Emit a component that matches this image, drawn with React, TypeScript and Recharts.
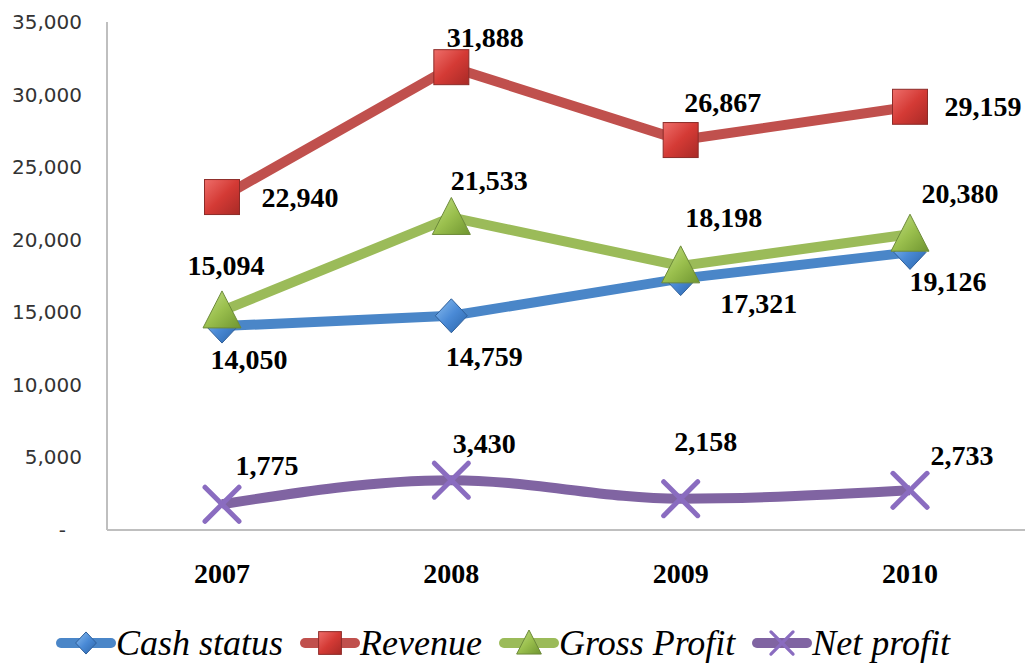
import React from 'react';
import { LineChart, Line, XAxis, YAxis, Legend, LabelList } from 'recharts';

const years = ['2007', '2008', '2009', '2010'];
const cashStatus = [14050, 14759, 17321, 19126];
const revenue = [22940, 31888, 26867, 29159];
const grossProfit = [15094, 21533, 18198, 20380];
const netProfit = [1775, 3430, 2158, 2733];
const yTicks = [0, 5000, 10000, 15000, 20000, 25000, 30000, 35000];

const data = years.map((year, i) => ({
    year,
    cash: cashStatus[i],
    revenue: revenue[i],
    gross: grossProfit[i],
    net: netProfit[i],
}));

// where each value label sits relative to its point (dx, dy)
const labelOffsets: Record<string, [number, number][]> = {
    cash: [[27, 33], [33, 41], [78, 25], [38, 29]],
    revenue: [[78, 0], [34, -30], [42, -38], [73, 0]],
    gross: [[4, -45], [38, -37], [43, -48], [50, -41]],
    net: [[45, -39], [33, -37], [25, -57], [52, -35]],
};

const COLORS = {
    cash: '#4a86c8',
    revenue: '#c0504d',
    gross: '#9bbb59',
    net: '#8064a2',
};

const SERIF = '"Liberation Serif", "Times New Roman", serif';

const Diamond = ({ cx, cy, s = 1 }: any) => (
    <polygon
        points={`${cx},${cy - 17 * s} ${cx + 16 * s},${cy} ${cx},${cy + 17 * s} ${cx - 16 * s},${cy}`}
        fill="url(#gBlue)"
        stroke="#2f5f9a"
        strokeWidth={1}
    />
);

const Square = ({ cx, cy, s = 1 }: any) => (
    <rect
        x={cx - 17.5 * s}
        y={cy - 17.5 * s}
        width={35 * s}
        height={35 * s}
        fill="url(#gRed)"
        stroke="#8c2b28"
        strokeWidth={1}
    />
);

const Triangle = ({ cx, cy, s = 1 }: any) => (
    <polygon
        points={`${cx},${cy - 20 * s} ${cx + 19 * s},${cy + 17 * s} ${cx - 19 * s},${cy + 17 * s}`}
        fill="url(#gGreen)"
        stroke="#6d8a3a"
        strokeWidth={1}
    />
);

const Cross = ({ cx, cy, s = 1 }: any) => (
    <g stroke="#8a6cc0" strokeWidth={5 * s} strokeLinecap="round">
        <line x1={cx - 17 * s} y1={cy - 17 * s} x2={cx + 17 * s} y2={cy + 17 * s} />
        <line x1={cx - 17 * s} y1={cy + 17 * s} x2={cx + 17 * s} y2={cy - 17 * s} />
    </g>
);

const makeLabel = (key: string) => (props: any) => {
    const { x, y, value, index } = props;
    const [dx, dy] = labelOffsets[key][index];
    return (
        <text
            x={x + dx}
            y={y + dy}
            textAnchor="middle"
            dominantBaseline="central"
            fontFamily={SERIF}
            fontWeight={700}
            fontSize={28}
            fill="#000"
        >
            {Number(value).toLocaleString('en-US')}
        </text>
    );
};

const YTick = ({ x, y, payload }: any) => (
    <text
        x={payload.value === 0 ? x - 16 : x}
        y={y}
        textAnchor="end"
        dominantBaseline="central"
        fontFamily='"DejaVu Sans", Verdana, sans-serif'
        fontSize={20}
        fill="#333"
    >
        {payload.value === 0 ? '-' : payload.value.toLocaleString('en-US')}
    </text>
);

const legendItems = [
    { name: 'Cash status', color: COLORS.cash, Marker: Diamond },
    { name: 'Revenue', color: COLORS.revenue, Marker: Square },
    { name: 'Gross Profit', color: COLORS.gross, Marker: Triangle },
    { name: 'Net profit', color: COLORS.net, Marker: Cross },
];

const renderLegend = () => (
    <div style={{ display: 'flex', justifyContent: 'center', alignItems: 'center', height: 50, paddingTop: 6, boxSizing: 'border-box' }}>
        {legendItems.map(({ name, color, Marker }) => (
            <div key={name} style={{ display: 'flex', alignItems: 'center', marginRight: 18 }}>
                <svg width={58} height={34} style={{ overflow: 'visible' }}>
                    <line x1={4} y1={17} x2={54} y2={17} stroke={color} strokeWidth={10} strokeLinecap="round" />
                    <Marker cx={29} cy={17} s={0.65} />
                </svg>
                <span style={{ fontFamily: SERIF, fontStyle: 'italic', fontSize: 36, color: '#000', marginLeft: 1 }}>
                    {name}
                </span>
            </div>
        ))}
    </div>
);

export default function App() {
    return (
        <div style={{ position: 'absolute', left: 0, top: 0, width: 1035, height: 666, background: '#fff' }}>
            <LineChart width={1035} height={666} data={data} margin={{ top: 22, right: 10, bottom: 1, left: 0 }}>
                <defs>
                    <linearGradient id="gBlue" x1="0" y1="0" x2="1" y2="1">
                        <stop offset="0%" stopColor="#8ec0f0" />
                        <stop offset="50%" stopColor="#4a8ad6" />
                        <stop offset="100%" stopColor="#2a64a8" />
                    </linearGradient>
                    <linearGradient id="gRed" x1="0" y1="0" x2="1" y2="1">
                        <stop offset="0%" stopColor="#ee6e6a" />
                        <stop offset="50%" stopColor="#d43a35" />
                        <stop offset="100%" stopColor="#a82a26" />
                    </linearGradient>
                    <linearGradient id="gGreen" x1="0" y1="0" x2="1" y2="1">
                        <stop offset="0%" stopColor="#c4e08a" />
                        <stop offset="50%" stopColor="#9bc04e" />
                        <stop offset="100%" stopColor="#6f9530" />
                    </linearGradient>
                </defs>
                <XAxis
                    dataKey="year"
                    padding={{ left: 115, right: 115 }}
                    height={85}
                    tickLine={false}
                    tickSize={0}
                    tickMargin={33}
                    axisLine={{ stroke: '#bfbfbf', strokeWidth: 2 }}
                    tick={{ fontFamily: SERIF, fontWeight: 700, fontSize: 28, fill: '#000' }}
                />
                <YAxis
                    width={107}
                    domain={[0, 35000]}
                    ticks={yTicks}
                    tickLine={false}
                    tickSize={0}
                    tickMargin={25}
                    axisLine={{ stroke: '#bfbfbf', strokeWidth: 2 }}
                    tick={<YTick />}
                />
                <Legend verticalAlign="bottom" height={50} content={renderLegend} />
                <Line
                    dataKey="cash"
                    name="Cash status"
                    stroke={COLORS.cash}
                    strokeWidth={10}
                    isAnimationActive={false}
                    dot={(p: any) => <Diamond key={`c${p.index}`} cx={p.cx} cy={p.cy} />}
                    activeDot={false}
                >
                    <LabelList dataKey="cash" content={makeLabel('cash')} />
                </Line>
                <Line
                    dataKey="revenue"
                    name="Revenue"
                    stroke={COLORS.revenue}
                    strokeWidth={10}
                    isAnimationActive={false}
                    dot={(p: any) => <Square key={`r${p.index}`} cx={p.cx} cy={p.cy} />}
                    activeDot={false}
                >
                    <LabelList dataKey="revenue" content={makeLabel('revenue')} />
                </Line>
                <Line
                    dataKey="gross"
                    name="Gross Profit"
                    stroke={COLORS.gross}
                    strokeWidth={10}
                    isAnimationActive={false}
                    dot={(p: any) => <Triangle key={`g${p.index}`} cx={p.cx} cy={p.cy} />}
                    activeDot={false}
                >
                    <LabelList dataKey="gross" content={makeLabel('gross')} />
                </Line>
                <Line
                    type="monotone"
                    dataKey="net"
                    name="Net profit"
                    stroke={COLORS.net}
                    strokeWidth={10}
                    isAnimationActive={false}
                    dot={(p: any) => <Cross key={`n${p.index}`} cx={p.cx} cy={p.cy} />}
                    activeDot={false}
                >
                    <LabelList dataKey="net" content={makeLabel('net')} />
                </Line>
            </LineChart>
        </div>
    );
}
